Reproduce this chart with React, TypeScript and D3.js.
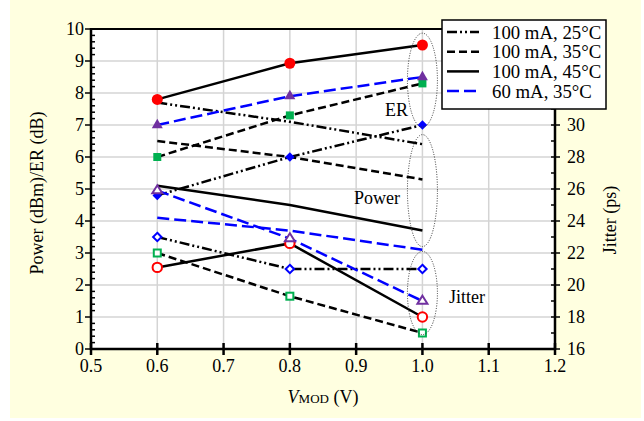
import React from "react";
import * as d3 from "d3";

const SERIES = ["100 mA, 25°C", "100 mA, 35°C", "100 mA, 45°C", "60 mA, 35°C"];
const VMOD = [0.6, 0.8, 1.0];
const ER_25 = [4.8, 6.0, 7.0];
const ER_35 = [6.0, 7.3, 8.3];
const ER_45 = [7.8, 8.93, 9.5];
const ER_60 = [7.0, 7.9, 8.5];
const POWER_25 = [7.7, 7.1, 6.4];
const POWER_35 = [6.5, 6.0, 5.3];
const POWER_45 = [5.1, 4.5, 3.7];
const POWER_60 = [4.1, 3.7, 3.1];
const JITTER_25 = [23.0, 21.0, 21.0];
const JITTER_35 = [22.0, 19.3, 17.0];
const JITTER_45 = [21.1, 22.6, 18.0];
const JITTER_60 = [25.9, 22.9, 19.0];
const X_TICKS = [0.5, 0.6, 0.7, 0.8, 0.9, 1.0, 1.1, 1.2];
const LEFT_TICKS = [0, 1, 2, 3, 4, 5, 6, 7, 8, 9, 10];
const RIGHT_TICKS = [16, 18, 20, 22, 24, 26, 28, 30, 32, 34, 36];
// labels visible on the right axis (upper ones are hidden by the legend)
const RIGHT_LABELS = [16, 18, 20, 22, 24, 26, 28, 30];
// annotation ellipses (y-center in left units, y-radius in left units)
const ELLIPSE_LABELS = ["ER", "Power", "Jitter"];
const ELLIPSE_CY = [8.4, 4.95, 1.75];
const ELLIPSE_RY = [1.47, 1.75, 1.3];

const ER = [ER_25, ER_35, ER_45, ER_60];
const POWER = [POWER_25, POWER_35, POWER_45, POWER_60];
const JITTER = [JITTER_25, JITTER_35, JITTER_45, JITTER_60];

const STYLES = [
  { stroke: "#000000", dash: "10,3,2,3,2,3", marker: "diamond", color: "#0000FF" },
  { stroke: "#000000", dash: "8,4", marker: "square", color: "#00B050" },
  { stroke: "#000000", dash: "", marker: "circle", color: "#FF0000" },
  { stroke: "#0000FF", dash: "12,5", marker: "triangle", color: "#7030A0" },
];

const FONT = "'Liberation Serif', 'Times New Roman', serif";

function Marker({ kind, x, y, color, open }: any) {
  const fill = open ? "#ffffff" : color;
  const stroke = color;
  const sw = open ? 2 : 0;
  if (kind === "circle") return <circle cx={x} cy={y} r={open ? 4.7 : 5.5} fill={fill} stroke={stroke} strokeWidth={sw} />;
  if (kind === "square") {
    const s = open ? 7 : 8;
    return <rect x={x - s / 2} y={y - s / 2} width={s} height={s} fill={fill} stroke={stroke} strokeWidth={sw} />;
  }
  if (kind === "diamond") {
    const d = open ? 4.2 : 4.8;
    return <path d={`M${x},${y - d}L${x + d},${y}L${x},${y + d}L${x - d},${y}Z`} fill={fill} stroke={stroke} strokeWidth={sw} />;
  }
  const h = open ? 8 : 9.5;
  const w = open ? 10 : 11;
  return (
    <path
      d={`M${x},${y - (2 * h) / 3}L${x + w / 2},${y + h / 3}L${x - w / 2},${y + h / 3}Z`}
      fill={fill}
      stroke={stroke}
      strokeWidth={sw}
      strokeLinejoin="miter"
    />
  );
}

export default function App() {
  const W = 644, H = 421;
  const L = 91, R = 555, T = 29, B = 349;
  const x = d3.scaleLinear().domain([0.5, 1.2]).range([L, R]);
  const y = d3.scaleLinear().domain([0, 10]).range([B, T]);
  const yr = d3.scaleLinear().domain([16, 36]).range([B, T]);
  const fmtX = d3.format(".1f");

  const lineL = d3.line<number>().x((_, i) => x(VMOD[i])).y((d) => y(d));
  const lineR = d3.line<number>().x((_, i) => x(VMOD[i])).y((d) => yr(d));

  const leftMinor = d3.range(0, 10.001, 0.2).filter((v) => Math.abs(v - Math.round(v)) > 1e-6);
  const rightMinor = d3.range(17, 36, 2);

  return (
    <svg width={W} height={H} style={{ position: "fixed", left: 0, top: 0 }} fontFamily={FONT}>
      <rect x={0} y={0} width={W} height={H} fill="#ffffff" />
      <rect x={10} y={0} width={631} height={418} fill="#FFFFE0" />
      <rect x={L} y={T} width={R - L} height={B - T} fill="#ffffff" />

      {/* grid */}
      {X_TICKS.slice(1, -1).map((t) => (
        <line key={"gx" + t} x1={x(t)} x2={x(t)} y1={T} y2={B} stroke="#d4d4d4" strokeWidth={1.5} />
      ))}
      {LEFT_TICKS.slice(1, -1).map((t) => (
        <line key={"gy" + t} x1={L} x2={R} y1={y(t)} y2={y(t)} stroke="#d4d4d4" strokeWidth={1.5} />
      ))}

      {/* lines */}
      {STYLES.map((s, i) => (
        <g key={"ln" + i} fill="none" stroke={s.stroke} strokeWidth={2.5} strokeDasharray={s.dash || undefined}>
          <path d={lineL(ER[i]) || ""} />
          <path d={lineL(POWER[i]) || ""} />
          <path d={lineR(JITTER[i]) || ""} />
        </g>
      ))}

      {/* markers */}
      {STYLES.map((s, i) => (
        <g key={"mk" + i}>
          {ER[i].map((v, j) => (
            <Marker key={"e" + j} kind={s.marker} x={x(VMOD[j])} y={y(v)} color={s.color} open={false} />
          ))}
          {JITTER[i].map((v, j) => (
            <Marker key={"j" + j} kind={s.marker} x={x(VMOD[j])} y={yr(v)} color={s.color} open={true} />
          ))}
        </g>
      ))}

      {/* ellipses */}
      {ELLIPSE_CY.map((c, i) => (
        <ellipse
          key={"el" + i}
          cx={x(1.0)}
          cy={y(c)}
          rx={15}
          ry={y(0) - y(ELLIPSE_RY[i])}
          fill="none"
          stroke="#333"
          strokeWidth={1}
          strokeDasharray="1,1.5"
        />
      ))}
      <text x={385} y={116} fontSize={18}>{ELLIPSE_LABELS[0]}</text>
      <text x={354} y={204} fontSize={18}>{ELLIPSE_LABELS[1]}</text>
      <text x={449} y={303} fontSize={18}>{ELLIPSE_LABELS[2]}</text>

      {/* frame & axes */}
      <line x1={L} x2={R} y1={T} y2={T} stroke="#000" strokeWidth={2} />
      <line x1={L} x2={L} y1={T - 1} y2={B + 1} stroke="#000" strokeWidth={2.5} />
      <line x1={R} x2={R} y1={T - 1} y2={B + 1} stroke="#000" strokeWidth={2.5} />
      <line x1={L - 1} x2={R + 1} y1={B} y2={B} stroke="#000" strokeWidth={2.5} />

      {X_TICKS.map((t) => (
        <g key={"xt" + t}>
          <line x1={x(t)} x2={x(t)} y1={B - 6} y2={B + 6} stroke="#000" strokeWidth={2.5} />
          <text x={x(t)} y={B + 23} fontSize={18} textAnchor="middle">{fmtX(t)}</text>
        </g>
      ))}
      {LEFT_TICKS.map((t) => (
        <g key={"lt" + t}>
          <line x1={L - 6} x2={L} y1={y(t)} y2={y(t)} stroke="#000" strokeWidth={1.5} />
          <text x={L - 7} y={y(t) + 6} fontSize={18} textAnchor="end">{t}</text>
        </g>
      ))}
      {leftMinor.map((t) => (
        <line key={"lm" + t} x1={L} x2={L + 4} y1={y(t)} y2={y(t)} stroke="#000" strokeWidth={1.5} />
      ))}
      {RIGHT_TICKS.map((t) => (
        <line key={"rt" + t} x1={R - 4} x2={R + 5} y1={yr(t)} y2={yr(t)} stroke="#000" strokeWidth={1.5} />
      ))}
      {RIGHT_LABELS.map((t) => (
        <text key={"rl" + t} x={R + 12} y={yr(t) + 6} fontSize={18}>{t}</text>
      ))}
      {rightMinor.map((t) => (
        <line key={"rm" + t} x1={R - 4} x2={R} y1={yr(t)} y2={yr(t)} stroke="#000" strokeWidth={1.5} />
      ))}

      {/* axis titles */}
      <text transform={`translate(43,${(T + B) / 2 + 4}) rotate(-90)`} fontSize={18} textAnchor="middle">
        Power (dBm)/ER (dB)
      </text>
      <text transform={`translate(616,220) rotate(-90)`} fontSize={18} textAnchor="middle">
        Jitter (ps)
      </text>
      <text x={(L + R) / 2} y={403} fontSize={18} textAnchor="middle">
        <tspan fontStyle="italic">V</tspan>
        <tspan fontSize={13}>MOD</tspan>
        <tspan> (V)</tspan>
      </text>

      {/* legend */}
      <rect x={442} y={20} width={164} height={89} fill="#ffffff" stroke="#000" strokeWidth={1.5} />
      {SERIES.map((name, i) => {
        const cy = 32 + i * 19.7;
        const s = STYLES[i];
        return (
          <g key={"lg" + i}>
            <line x1={447} x2={479} y1={cy} y2={cy} stroke={s.stroke} strokeWidth={2.5} strokeDasharray={s.dash || undefined} />
            <text x={492} y={cy + 6.5} fontSize={18.8}>{name}</text>
          </g>
        );
      })}
    </svg>
  );
}
